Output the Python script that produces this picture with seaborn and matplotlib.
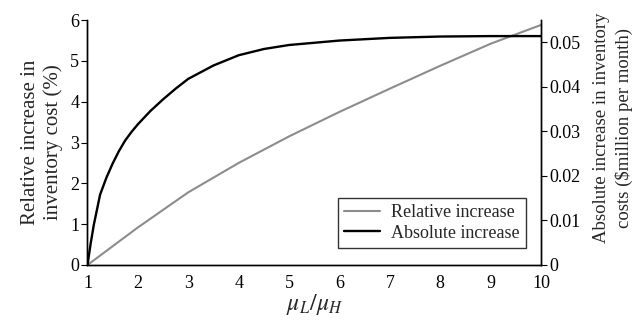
import matplotlib
matplotlib.use('Agg')
import matplotlib.pyplot as plt
import seaborn as sns
from matplotlib.lines import Line2D

# Relative increase (left axis, %)
rel_x = [1, 2, 3, 4, 5, 6, 7, 8, 9, 10]
rel_y = [0, 0.92, 1.78, 2.50, 3.15, 3.75, 4.32, 4.88, 5.42, 5.88]

# Absolute increase (right axis, $million per month)
abs_x = [1.0, 1.0625, 1.125, 1.25, 1.375, 1.5, 1.625, 1.75, 1.875, 2.0,
         2.25, 2.5, 2.75, 3.0, 3.5, 4.0, 4.5, 5.0, 5.5, 6.0, 7.0, 8.0,
         9.0, 10.0]
abs_y = [0, 0.0048, 0.0090, 0.0158, 0.0196, 0.0228, 0.0256, 0.0280, 0.0299,
         0.0316, 0.0346, 0.0372, 0.0396, 0.0418, 0.0448, 0.0471, 0.0485,
         0.0494, 0.0499, 0.0504, 0.0510, 0.0513, 0.0514, 0.0514]

x_ticks = list(range(1, 11))
left_ticks = list(range(0, 7))
right_ticks = [0, 0.01, 0.02, 0.03, 0.04, 0.05]
right_labels = ['0', '0.01', '0.02', '0.03', '0.04', '0.05']

sns.set_style('white')
plt.rcParams['font.family'] = ['Liberation Serif', 'DejaVu Serif']
plt.rcParams['mathtext.fontset'] = 'stix'

fig = plt.figure(figsize=(6.41, 3.21), dpi=100)
ax = fig.add_axes([0.1365, 0.1745, 0.7075, 0.763])
ax2 = ax.twinx()

sns.lineplot(x=rel_x, y=rel_y, ax=ax, color='#8c8c8c', linewidth=1.5)
sns.lineplot(x=abs_x, y=abs_y, ax=ax2, color='black', linewidth=1.7)

ax.set_xlim(1, 10)
ax.set_ylim(0, 6)
ax2.set_ylim(0, 0.055)
ax.set_xticks(x_ticks)
ax.set_yticks(left_ticks)
ax2.set_yticks(right_ticks)
ax2.set_yticklabels(right_labels)

for a in (ax, ax2):
    a.spines['top'].set_visible(False)
    for s in ('left', 'right', 'bottom'):
        a.spines[s].set_color('black')
        a.spines[s].set_linewidth(1.0)

ax.tick_params(axis='x', direction='in', length=4, width=0.8, colors='black',
               labelsize=13, pad=7)
ax.tick_params(axis='y', direction='out', length=4, width=0.8, colors='black',
               labelsize=13, pad=2, left=True)
ax2.tick_params(axis='y', direction='out', length=4, width=0.8, colors='black',
                labelsize=13, pad=2, right=True)

ax.set_xlabel(r'$\mu_L/\mu_H$', fontsize=17, labelpad=0)
ax.set_ylabel('Relative increase in\ninventory cost (%)', fontsize=15,
              linespacing=1.2, labelpad=5)
ax2.set_ylabel('Absolute increase in inventory\ncosts (\\$million per month)',
               fontsize=13.5, linespacing=1.35, labelpad=9)
ax2.yaxis.label.set_y(0.56)

handles = [Line2D([], [], color='#8c8c8c', linewidth=1.5),
           Line2D([], [], color='black', linewidth=1.7)]
leg = ax2.legend(handles, ['Relative increase', 'Absolute increase'],
                 loc='lower right', bbox_to_anchor=(0.967, 0.069), fontsize=13,
                 frameon=True, fancybox=False, borderpad=0.35,
                 borderaxespad=0, handlelength=2.0, labelspacing=0.2,
                 handletextpad=0.6)
leg.get_frame().set_edgecolor('black')
leg.get_frame().set_linewidth(1.0)

fig.savefig('out.png', dpi=100)
